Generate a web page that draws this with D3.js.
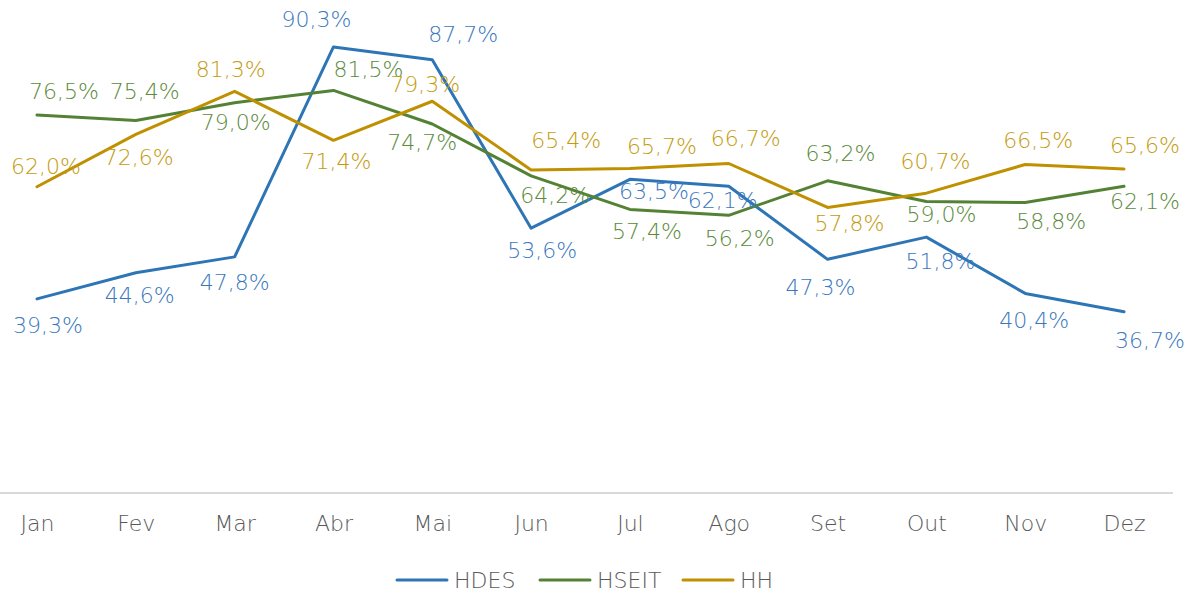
<!DOCTYPE html>
<html>
<head>
<meta charset="utf-8">
<script src="https://cdn.jsdelivr.net/npm/d3@7"></script>
<style>
  html, body { margin: 0; padding: 0; background: #fff; }
  svg { display: block; }
  svg text { font-family: "DejaVu Sans", sans-serif; font-weight: 200; }
</style>
</head>
<body>
<svg id="chart" width="1189" height="595"></svg>
<script>
// ---- data ----
const months = ["Jan","Fev","Mar","Abr","Mai","Jun","Jul","Ago","Set","Out","Nov","Dez"];
const seriesNames = ["HDES","HSEIT","HH"];
const hdes  = [39.3, 44.6, 47.8, 90.3, 87.7, 53.6, 63.5, 62.1, 47.3, 51.8, 40.4, 36.7];
const hseit = [76.5, 75.4, 79.0, 81.5, 74.7, 64.2, 57.4, 56.2, 63.2, 59.0, 58.8, 62.1];
const hh    = [62.0, 72.6, 81.3, 71.4, 79.3, 65.4, 65.7, 66.7, 57.8, 60.7, 66.5, 65.6];

// ---- label placement (offset of label centre from its point, px) ----
const hdesLabelOffset  = [[11,27],[4,23],[0,26],[-17,-27],[31,-25],[11,22],[24,12],[-6,14],[-7,28],[14,24],[9,27],[26,29]];
const hseitLabelOffset = [[27,-24],[9,-29],[1,20],[35,-21],[-10,19],[24,20],[17,22],[11,23],[13,-27],[15,13],[26,19],[21,15]];
const hhLabelOffset    = [[9,-20],[3,23],[-4,-22],[3,21],[-7,-17],[35,-29],[32,-22],[17,-25],[22,16],[9,-32],[13,-24],[21,-23]];

// ---- styles ----
const lineColors  = ["#2E75B6", "#548235", "#BF9000"];
const labelColors = ["#3A78BE", "#5A8A3A", "#C49A0C"];

const series = [
  { name: seriesNames[0], values: hdes,  offsets: hdesLabelOffset },
  { name: seriesNames[1], values: hseit, offsets: hseitLabelOffset },
  { name: seriesNames[2], values: hh,    offsets: hhLabelOffset }
];

const svg = d3.select("#chart");

const x = d3.scalePoint().domain(months).range([37, 1124]);
const y = d3.scaleLinear().domain([0, 100]).range([493, -1]);

// baseline axis
const xAxis = d3.axisBottom(x).tickSize(0).tickPadding(22);
const axisG = svg.append("g").attr("transform", "translate(0,493)").call(xAxis)
  .attr("font-family", null).attr("font-size", null);
axisG.select(".domain").remove();
axisG.append("line").attr("x1", 0).attr("x2", 1173).attr("y1", 0).attr("y2", 0)
  .attr("stroke", "#D9D9D9").attr("stroke-width", 2);
axisG.selectAll(".tick text")
  .attr("fill", "#595959")
  .style("font-size", "22px")
  .attr("dy", "0.71em");

const line = d3.line().x((d, i) => x(months[i])).y(d => y(d));

const fmt = v => v.toFixed(1).replace(".", ",") + "%";

series.forEach((s, si) => {
  svg.append("path")
    .datum(s.values)
    .attr("d", line)
    .attr("fill", "none")
    .attr("stroke", lineColors[si])
    .attr("stroke-width", 3)
    .attr("stroke-linejoin", "round")
    .attr("stroke-linecap", "round");
});

series.forEach((s, si) => {
  svg.append("g").selectAll("text")
    .data(s.values)
    .join("text")
    .attr("x", (d, i) => x(months[i]) + s.offsets[i][0])
    .attr("y", (d, i) => y(d) + s.offsets[i][1])
    .attr("text-anchor", "middle")
    .attr("dominant-baseline", "central")
    .attr("fill", labelColors[si])
    .style("font-size", "22px")
    .text(d => fmt(d));
});

// legend
const legendX = [397, 540, 683];
const legend = svg.append("g");
series.forEach((s, si) => {
  const g = legend.append("g").attr("transform", `translate(${legendX[si]},580)`);
  g.append("line").attr("x1", 0).attr("x2", 50).attr("y1", 0).attr("y2", 0)
    .attr("stroke", lineColors[si]).attr("stroke-width", 3).attr("stroke-linecap", "round");
  g.append("text").attr("x", 57).attr("y", 0).attr("dominant-baseline", "central")
    .attr("fill", "#595959").style("font-size", "22px")
    .text(s.name);
});
</script>
</body>
</html>
